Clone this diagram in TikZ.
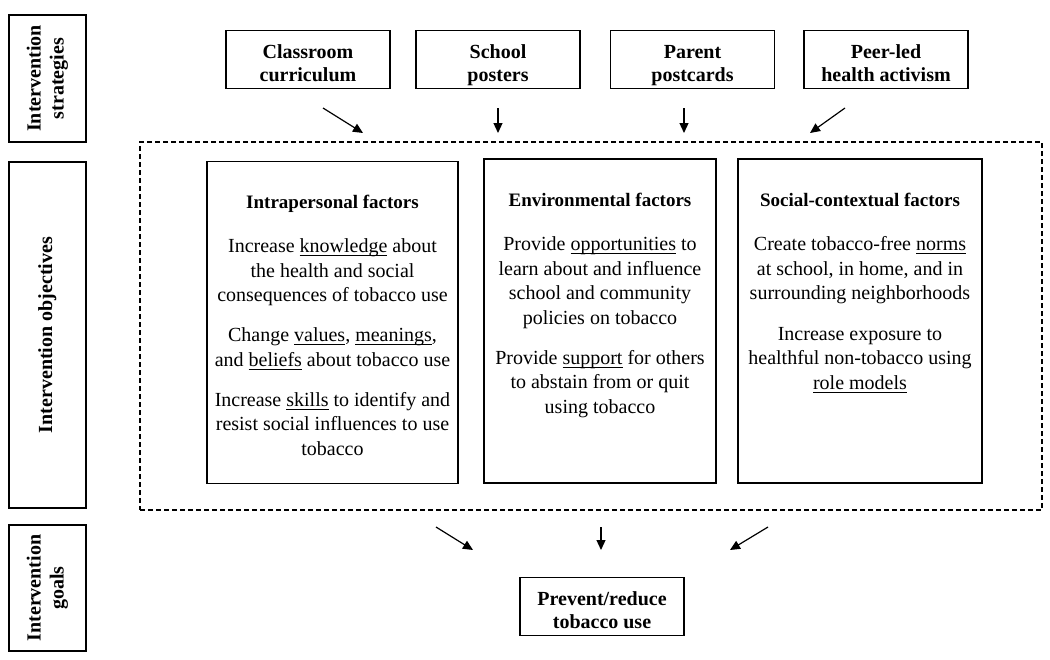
\documentclass[tikz,border=0pt]{standalone}
\usepackage{fontspec}
\setmainfont{Liberation Serif}
\usetikzlibrary{arrows.meta}
\newcommand{\uword}[1]{\underline{\smash{#1}}}
\newcommand{\topstrut}{\rule{0pt}{14pt}}
\tikzset{
    every node/.style={align=center, inner sep=0pt,
    	font=\bfseries\fontsize{10}{11.5}\selectfont}
}
\tikzset{
    box/.style={draw, line width=0.75pt},
    sidebox/.style={box, rotate=90, minimum height=38.5pt},
    stratbox/.style={box, minimum width=82pt, minimum height=28.5pt},
    factorbox/.style={box, minimum height=161pt},
    factortext/.style={anchor=north, font=\fontsize{10}{12.25}\selectfont}
}
\tikzset{
    every edge/.append style={line width=0.6pt, -{Triangle[length=5pt, width=4.5pt]}}
}

\begin{document}
\begin{tikzpicture}[x=0.5pt, y=-0.5pt]
  \useasboundingbox (0,0) rectangle (1050,659);

  \node (strat) [sidebox, minimum width=63.5pt] at (47.5, 78.5) {\strut Intervention\\strategies\strut};
  \node (obj) [sidebox, minimum width=173pt] at (47.5, 335) {\strut Intervention objectives};
  \node (goal) [sidebox, minimum width=63pt] at (47.5, 588) {\strut Intervention\\goals\strut};

  \node (curr) [stratbox] at (308, 59.5) {\topstrut Classroom\\curriculum\strut};
  \node (post) [stratbox] at (498, 59.5) {\topstrut School\\posters\strut};
  \node (card) [stratbox] at (692.5, 59.5) {\topstrut Parent\\postcards\strut};
  \node (peer) [stratbox] at (886, 59.5) {\topstrut Peer-led\\health activism\strut};

  \node (objectives) [box, dashed, dash pattern=on 2.5pt off 1.5pt,
  	minimum width=451pt, minimum height=184pt] at (591, 326) {};

  \node (intra) [factorbox, minimum width=125.5pt] at (332.5, 322.5) {};
  \node (env) [factorbox, minimum width=116pt, minimum height=162pt] at (600, 321) {};
  \node (social) [factorbox, minimum width=122pt, minimum height=162pt] at (860, 321) {};

  \node (intra-txt) [factortext] at (332.5, 195) {%
  	{\bfseries\fontsize{9.5}{12.25}\selectfont Intrapersonal factors}\\[9.75pt]
  	Increase \uword{knowledge} about\\
  	the health and social\\
  	consequences of tobacco use\\[7.75pt]
  	Change \uword{values}, \uword{meanings},\\
  	and \uword{beliefs} about tobacco use\\[7.75pt]
  	Increase \uword{skills} to identify and\\
  	resist social influences to use\\
  	tobacco};
  \node (env-txt) [factortext] at (600, 193) {%
  	{\bfseries\fontsize{9.5}{12.25}\selectfont Environmental factors}\\[9.75pt]
  	Provide \uword{opportunities} to\\
  	learn about and influence\\
  	school and community\\
  	policies on tobacco\\[7.75pt]
  	Provide \uword{support} for others\\
  	to abstain from or quit\\
  	using tobacco};
  \node (social-txt) [factortext] at (860, 193) {%
  	{\bfseries\fontsize{9.5}{12.25}\selectfont Social-contextual factors}\\[9.75pt]
  	Create tobacco-free \uword{norms}\\
  	at school, in home, and in\\
  	surrounding neighborhoods\\[8pt]
  	Increase exposure to\\
  	healthful non-tobacco using\\
  	\uword{role models}};

  \node (prevent) [stratbox] at (602, 606.5) {\topstrut Prevent/reduce\\tobacco use\strut};

  \coordinate (curr-out) at (323, 108);
  \coordinate (curr-in) at (363, 133);
  \coordinate (post-out) at (498, 108);
  \coordinate (post-in) at (498, 133);
  \coordinate (card-out) at (684, 108);
  \coordinate (card-in) at (684, 133);
  \coordinate (peer-out) at (845, 108);
  \coordinate (peer-in) at (810, 133);

  \coordinate (obj-l) at (436, 527);
  \coordinate (goal-l) at (473, 550);
  \coordinate (obj-m) at (601, 527);
  \coordinate (goal-m) at (601, 550);
  \coordinate (obj-r) at (768, 527);
  \coordinate (goal-r) at (730, 550);

  \draw (curr-out) edge (curr-in);
  \draw (post-out) edge (post-in);
  \draw (card-out) edge (card-in);
  \draw (peer-out) edge (peer-in);
  \draw (obj-l) edge (goal-l);
  \draw (obj-m) edge (goal-m);
  \draw (obj-r) edge (goal-r);
\end{tikzpicture}
\end{document}
